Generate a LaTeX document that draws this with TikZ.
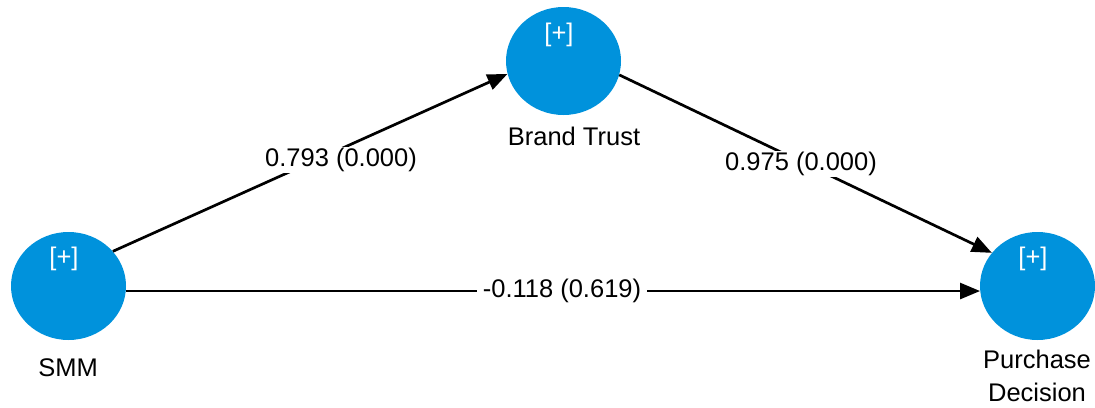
\documentclass[tikz,border=0pt]{standalone}
\usepackage{fontspec}
\setmainfont{Liberation Sans}
\usetikzlibrary{shapes.geometric,arrows.meta}
\definecolor{lvblue}{RGB}{0,146,220}
\begin{document}
\begin{tikzpicture}[x=1pt,y=-1pt,
  every node/.style={font=\fontsize{25.5}{33}\selectfont},
  latent/.style={ellipse,fill=lvblue,draw=none,minimum width=115pt,minimum height=108pt,inner sep=0pt},
  plus/.style={text=white,inner sep=0pt},
  caption/.style={text=black,inner sep=0pt,align=center},
  path/.style={line width=2.7pt,-{Triangle[length=20pt,width=16pt]}},
  coef/.style={fill=white,inner xsep=6pt,inner ysep=1.5pt}]
\useasboundingbox (0,0) rectangle (1095,407);

% latent variables
\node[latent] (smm) at (68.5,286) {};
\node[latent] (bt)  at (563.5,61) {};
\node[latent] (pd)  at (1037.5,286) {};

\node[plus] (smmplus) at (64,259) {[+]};
\node[plus] (btplus)  at (559,35) {[+]};
\node[plus] (pdplus)  at (1033,259) {[+]};

\node[caption] (smmlbl) at (68,368) {SMM};
\node[caption] (btlbl)  at (574,136) {Brand Trust};
\node[caption] (pdlbl)  at (1037,376) {Purchase\\Decision};

% structural paths
\draw[path] (smm.38) -- (bt.193);
\draw[path] (bt.-14) -- (pd.144);
\draw[path] (smm.-5) -- (pd.185);

% path coefficients (p-values)
\node[coef] (c1) at (341,160) {0.793 (0.000)};
\node[coef] (c2) at (801,164) {0.975 (0.000)};
\node[coef] (c3) at (562,291) {-0.118 (0.619)};
\end{tikzpicture}
\end{document}
